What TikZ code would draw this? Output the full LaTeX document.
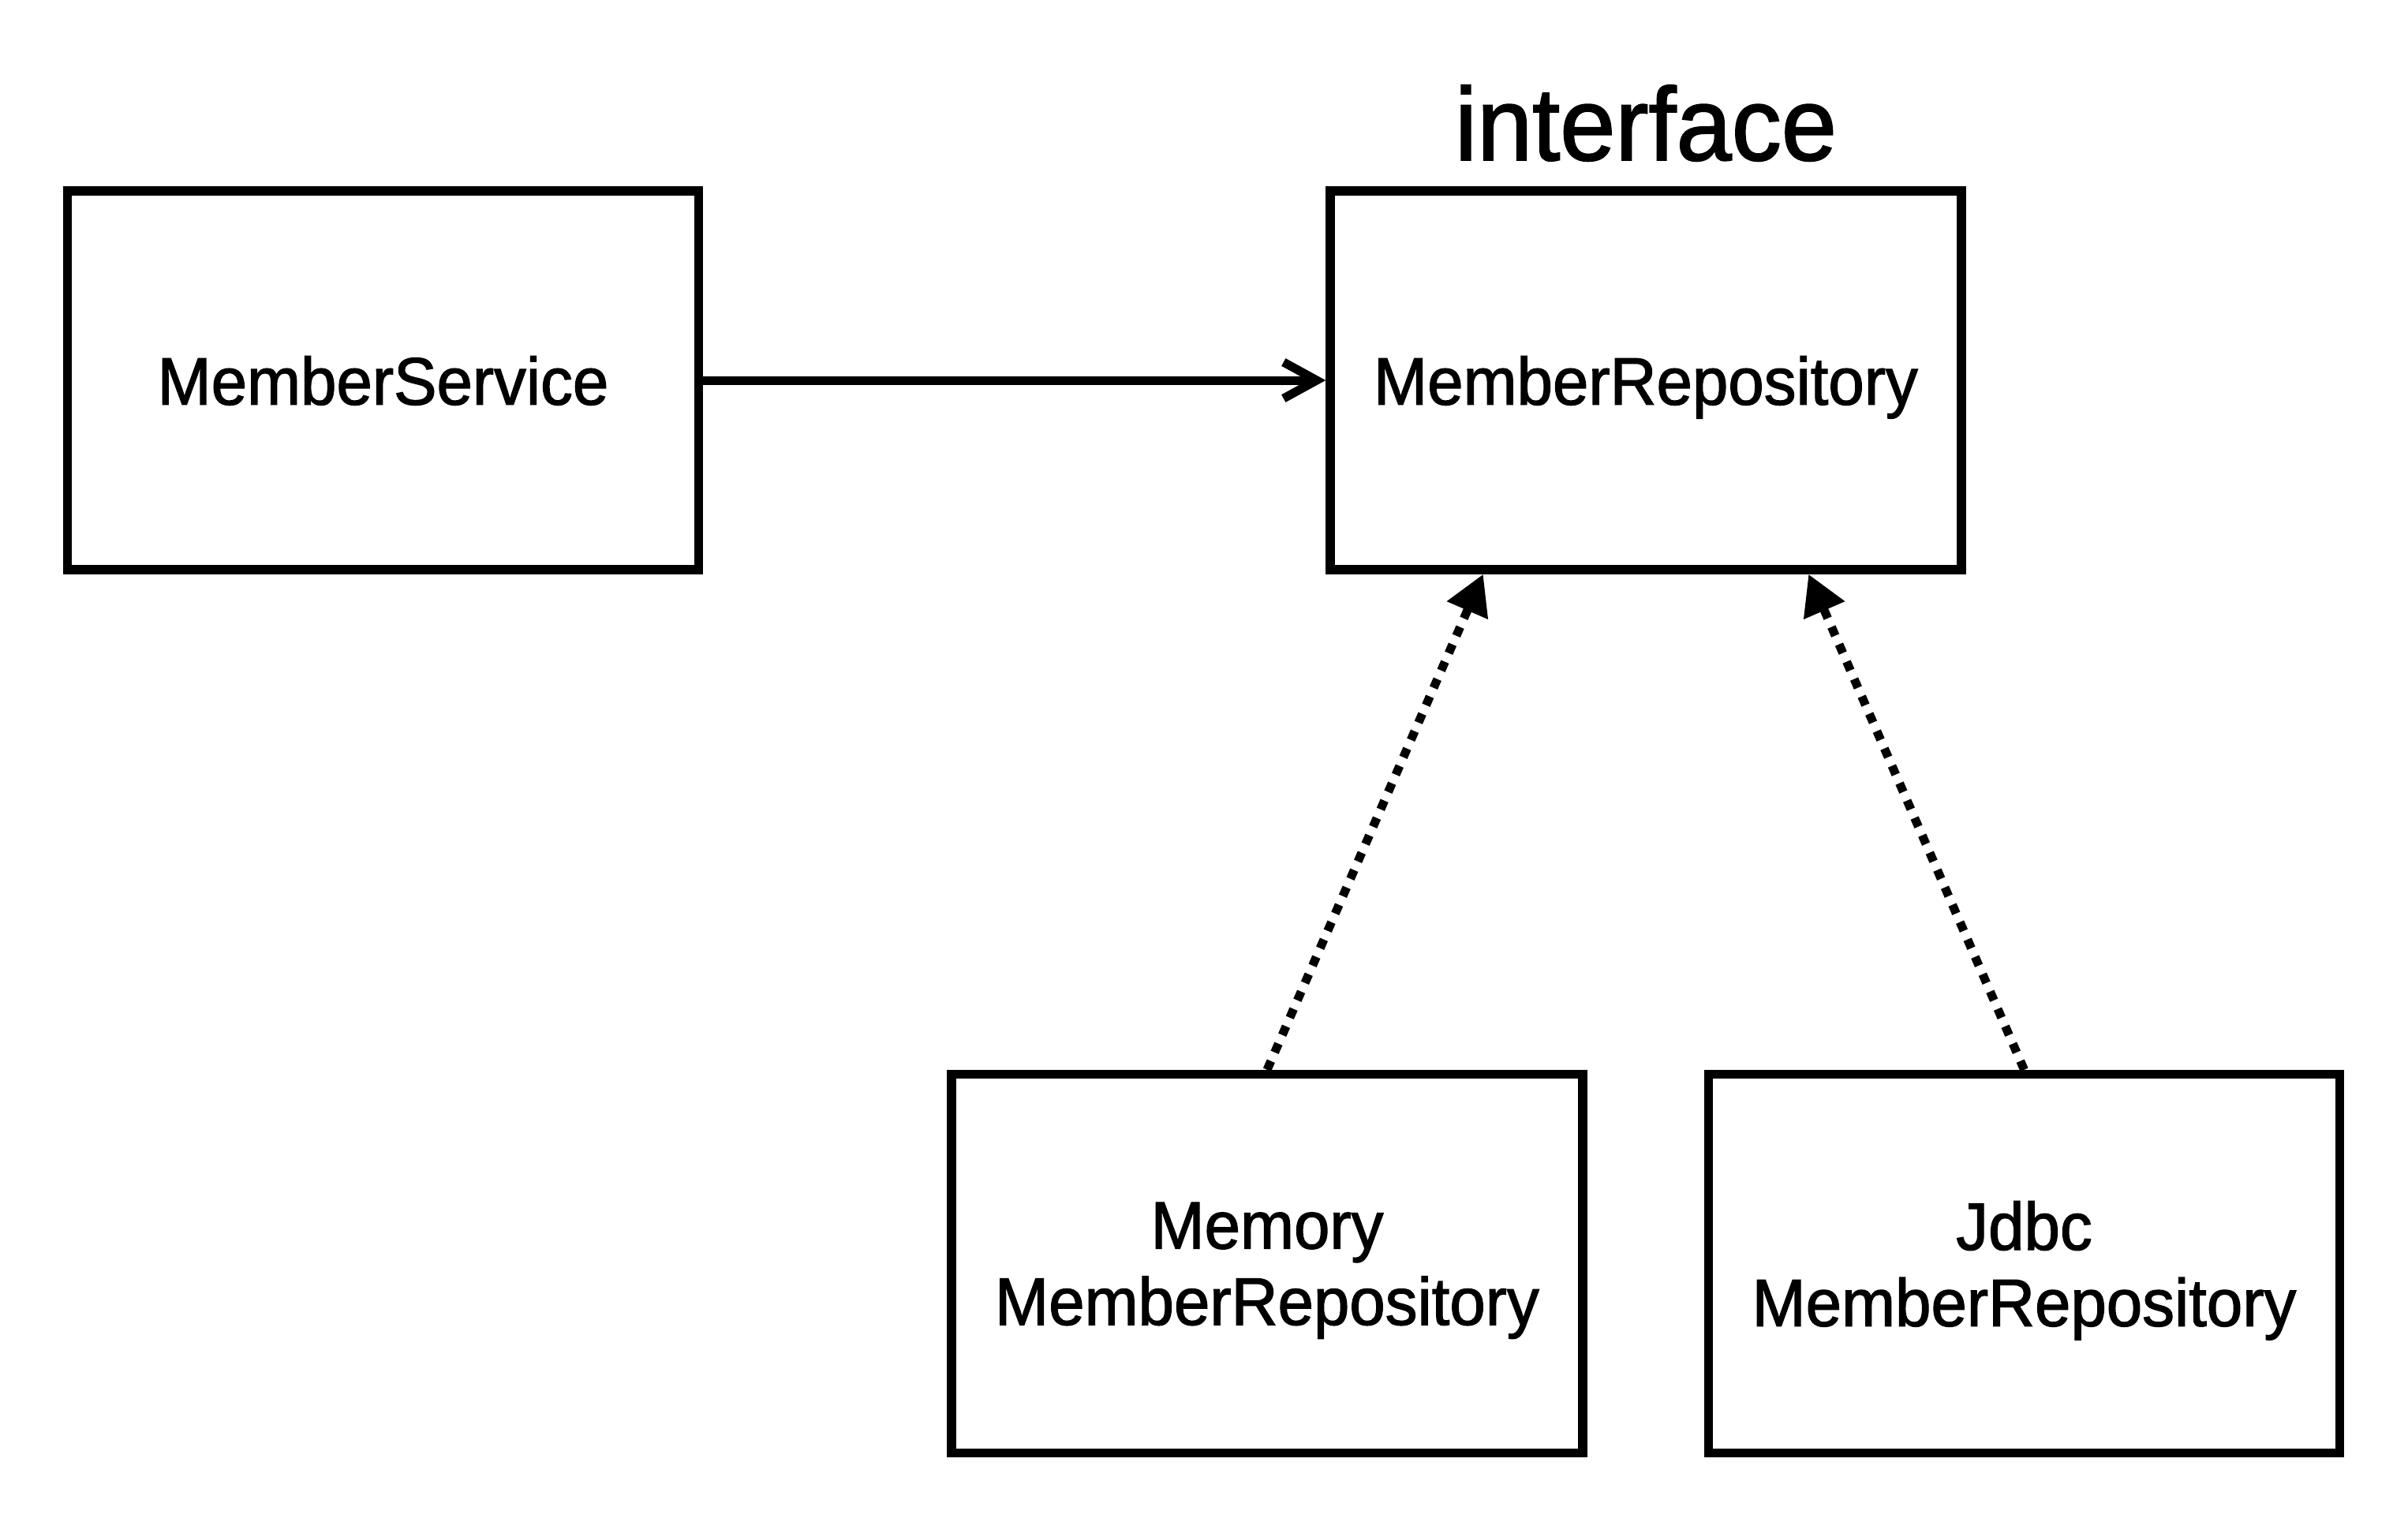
\documentclass[tikz,border=0pt]{standalone}
\usepackage{fontspec}
\setmainfont{Liberation Sans}[FakeStretch=0.96, FakeBold=1.5]
\usetikzlibrary{arrows.meta}

\begin{document}
\begin{tikzpicture}[
    classbox/.style={draw, line width=0.115cm, minimum width=8cm, minimum height=4.8cm,
        inner sep=0pt, align=center, text depth=0pt, font=\fontsize{24.2}{27.5}\selectfont},
    uses/.style={line width=0.11cm, -{Straight Barb[length=4.2mm,width=4.6mm]}},
    realizes/.style={line width=0.11cm, dash pattern=on 1.2mm off 1.2mm,
        -{Triangle[length=5mm,width=5.4mm]}}]
\useasboundingbox (0,0) rectangle (30.52,-19.28);

\node[classbox] (service) at (4.855,-4.82) {MemberService};
\node[classbox] (repo) at (20.86,-4.82) {MemberRepository};
\node[anchor=base, font=\fontsize{37.4}{41}\selectfont] (iface) at (20.86,-2.03) {interface};
\node[classbox] (memory) at (16.06,-16.015) {Memory\\MemberRepository};
\node[classbox] (jdbc) at (25.655,-16.015) {Jdbc\\MemberRepository};

\draw[uses] (service) -- (repo);
\draw[realizes] (memory.north) -- (repo.230);
\draw[realizes] (jdbc.north) -- (repo.310);
\end{tikzpicture}
\end{document}
